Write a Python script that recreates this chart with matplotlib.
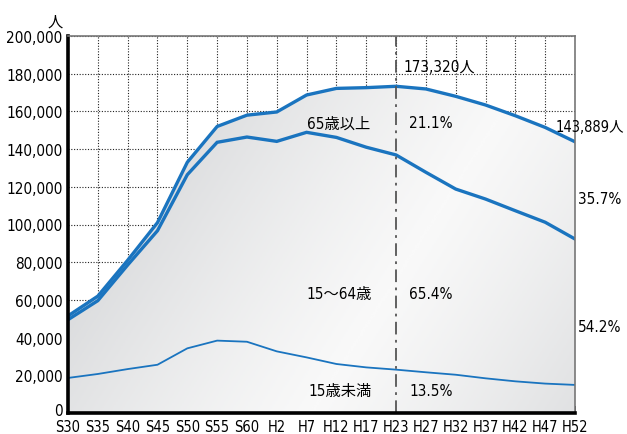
import numpy as np
import matplotlib.pyplot as plt
import matplotlib.transforms as mtransforms
from matplotlib.colors import LinearSegmentedColormap
from matplotlib.ticker import FuncFormatter

plt.rcParams['font.family'] = ['DejaVu Sans', 'Noto Sans CJK JP']
plt.rcParams['font.stretch'] = 'condensed'

years = ['S30', 'S35', 'S40', 'S45', 'S50', 'S55', 'S60', 'H2', 'H7', 'H12',
         'H17', 'H23', 'H27', 'H32', 'H37', 'H42', 'H47', 'H52']
# 総人口
total = [51500, 62000, 81000, 101000, 133000, 152000, 158000, 159700, 168700, 172200,
         172600, 173320, 171900, 168000, 163400, 157700, 151500, 143889]
# 65歳未満 (15歳未満 + 15～64歳)
under65 = [49500, 59600, 78500, 96700, 126400, 143600, 146400, 144100, 148900, 146200,
           141000, 136900, 127700, 118800, 113500, 107300, 101200, 92300]
# 15歳未満
under15 = [18600, 20700, 23300, 25600, 34300, 38400, 37800, 32700, 29500, 26000,
           24200, 23000, 21600, 20300, 18400, 16800, 15600, 14900]

blue = '#1a74bf'

fig = plt.figure(figsize=(6.27, 4.35), dpi=100)
ax = fig.add_axes([68 / 627, 21 / 435, 507 / 627, 377 / 435])

x = np.arange(len(years))
ax.set_xlim(0, len(years) - 1)
ax.set_ylim(0, 200000)

# gradient fill under the total line (light diagonal band, greyer towards the edges)
nx, ny = np.meshgrid(np.linspace(0, 1, 300), np.linspace(0, 1, 300))
d = np.abs((nx - 0.48) * 0.904 - ny * 0.427)
shade = np.clip(1 - 0.75 * d - 0.5 * d ** 2, 0, 1)
greys = LinearSegmentedColormap.from_list('greys', ['#c4c6c9', '#f9f9f9'])
poly = ax.fill_between(x, 0, total, color='none', lw=0)
img = ax.imshow(shade, cmap=greys, vmin=0, vmax=1, origin='lower', aspect='auto',
                extent=(0, len(years) - 1, 0, 200000), zorder=1, interpolation='bilinear')
img.set_clip_path(poly.get_paths()[0], transform=ax.transData)

ax.plot(x, total, color=blue, lw=2.4, zorder=3, solid_joinstyle='miter')
ax.plot(x, under65, color=blue, lw=2.4, zorder=3, solid_joinstyle='miter')
ax.plot(x, under15, color=blue, lw=1.3, zorder=3)

ax.axvline(years.index('H23'), color='#555555', lw=1.3, dashes=(7, 3, 1.5, 3), zorder=4)

ax.set_axisbelow(True)
ax.grid(True, linestyle=(0, (1, 1.5)), color='#222222', lw=0.8)

ax.set_xticks(x)
ax.set_xticklabels(years)
ax.set_yticks(np.arange(0, 200001, 20000))
ax.yaxis.set_major_formatter(FuncFormatter(lambda v, p: f'{int(v):,}'))
ax.tick_params(axis='x', direction='in', length=5, width=1.2, labelsize=10.5, pad=4)
ax.tick_params(axis='y', length=0, labelsize=11, pad=4)

# nudge the "0" label up a little so it sits clear of "S30"
zero_lbl = ax.get_yticklabels()[0]
zero_lbl.set_transform(zero_lbl.get_transform() +
                       mtransforms.ScaledTranslation(0, 3 / 72, fig.dpi_scale_trans))

for s in ['left', 'bottom']:
    ax.spines[s].set_linewidth(2.6)
    ax.spines[s].set_color('black')
for s in ['top', 'right']:
    ax.spines[s].set_linewidth(1.2)
    ax.spines[s].set_color('#777777')
for s in ax.spines.values():
    s.set_zorder(5)

fs = 11
fig.text(55 / 627, 1 - 22 / 435, '人', fontsize=fs, ha='center', va='center')
fig.text(403 / 627, 1 - 68 / 435, '173,320人', fontsize=fs, ha='left', va='center')
fig.text(624 / 627, 1 - 127 / 435, '143,889人', fontsize=10.5, ha='right', va='center')
fig.text(578 / 627, 1 - 200 / 435, '35.7%', fontsize=fs, ha='left', va='center')
fig.text(578 / 627, 1 - 328 / 435, '54.2%', fontsize=fs, ha='left', va='center')
fig.text(307 / 627, 1 - 124 / 435, '65歳以上', fontsize=fs, ha='left', va='center')
fig.text(409 / 627, 1 - 124 / 435, '21.1%', fontsize=fs, ha='left', va='center')
fig.text(306 / 627, 1 - 295 / 435, '15～64歳', fontsize=fs, ha='left', va='center')
fig.text(409 / 627, 1 - 295 / 435, '65.4%', fontsize=fs, ha='left', va='center')
fig.text(308 / 627, 1 - 392 / 435, '15歳未満', fontsize=fs, ha='left', va='center')
fig.text(409 / 627, 1 - 392 / 435, '13.5%', fontsize=fs, ha='left', va='center')

fig.savefig('out.png', dpi=100)
